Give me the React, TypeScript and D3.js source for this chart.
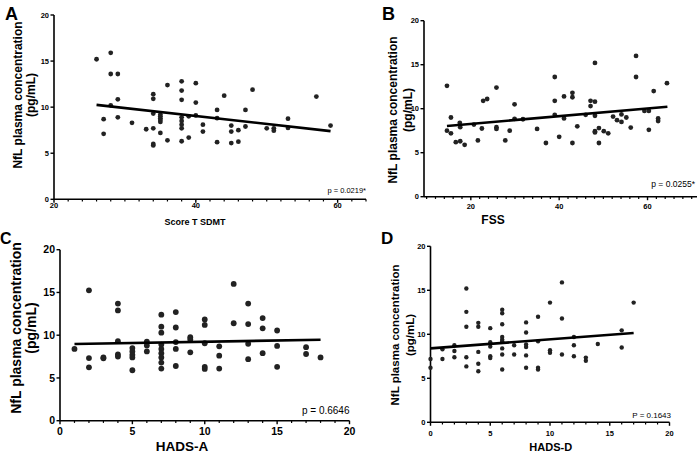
import React from 'react';
import * as d3 from 'd3';

// Panel A: Score T SDMT vs NfL
const aX = [26, 28, 28, 29, 27, 27, 28, 29, 29, 31, 33, 34, 34, 34, 34, 34, 34, 35, 35, 35, 35, 35, 35, 36, 36, 38, 38, 38, 38, 38, 38, 38, 38, 39, 39, 40, 40, 40, 41, 41, 43, 43, 43, 44, 45, 45, 45, 46, 46, 47, 47, 48, 50, 51, 51, 53, 53, 57, 59];
const aY = [15.2, 15.9, 13.6, 13.6, 8.7, 7.1, 10.2, 10.85, 8.9, 8.3, 7.6, 11.4, 10.9, 9.3, 7.7, 6.0, 5.85, 9.2, 8.8, 8.4, 9.0, 8.6, 7.2, 12.4, 6.4, 12.8, 11.8, 10.8, 8.9, 8.5, 8.1, 7.7, 6.3, 9.0, 6.7, 12.6, 10.5, 9.1, 8.1, 7.35, 6.2, 9.7, 8.8, 11.25, 8.0, 7.35, 6.1, 7.5, 6.25, 9.7, 7.9, 11.9, 7.7, 7.7, 7.45, 8.75, 7.75, 11.15, 8.0];
const aFit = [[26, 10.25], [59, 7.4]];

// Panel B: FSS vs NfL
const bX = [14.6, 14.6, 15.5, 15.5, 16.6, 17.5, 17.6, 17.6, 18.6, 20.7, 21.6, 22.5, 22.8, 23.7, 25.8, 25.8, 25.8, 27.8, 28.8, 29.9, 29.9, 31.8, 35, 37, 39, 39, 39, 40, 41.1, 41.1, 43, 43, 43, 44.1, 46, 47.1, 47.1, 48.1, 48.1, 48.1, 48.1, 48.1, 49, 49, 50.1, 51.1, 52.2, 53.1, 54.1, 54.1, 55.2, 56.2, 57.4, 57.4, 59.3, 60.3, 60.3, 61.4, 62.4, 62.4, 64.4];
const bY = [12.6, 7.5, 9.0, 7.2, 6.2, 8.4, 7.9, 6.3, 5.9, 8.2, 6.4, 7.75, 10.9, 11.1, 12.4, 7.9, 7.7, 6.4, 7.5, 10.5, 8.85, 8.8, 7.7, 6.1, 13.6, 10.9, 9.3, 6.8, 11.4, 8.9, 11.8, 11.3, 6.1, 8.0, 9.3, 10.9, 10.3, 15.2, 10.8, 9.2, 7.45, 7.3, 7.8, 6.1, 7.45, 7.2, 9.1, 8.7, 9.35, 8.5, 9.0, 7.85, 16.0, 13.6, 9.75, 9.75, 7.6, 12.0, 8.9, 8.6, 12.9];
const bFit = [[14.6, 8.03], [64.5, 10.23]];

// Panel C: HADS-A vs NfL
const cX = [1, 2, 2, 2, 3, 3, 4, 4, 4, 4, 4, 5, 5, 5, 5, 5, 6, 6, 6, 7, 7, 7, 7, 7, 7, 7, 7, 7, 8, 8, 8, 8, 8, 9, 9, 9, 10, 10, 10, 10, 10, 11, 11, 11, 12, 12, 13, 13, 13, 13, 14, 14, 14, 15, 15, 15, 17, 17, 18];
const cY = [8.4, 15.25, 7.33, 6.24, 7.4, 7.3, 13.7, 12.9, 9.3, 7.75, 7.5, 8.5, 8.1, 7.7, 7.4, 5.9, 9.25, 8.8, 8.1, 12.4, 11.0, 10.3, 8.9, 8.4, 7.9, 7.4, 6.8, 6.1, 12.7, 10.9, 9.2, 8.4, 6.4, 9.76, 9.5, 8.0, 11.85, 11.2, 9.06, 6.3, 6.05, 8.7, 7.6, 6.1, 16.0, 11.4, 13.7, 11.3, 9.0, 7.2, 12.0, 10.8, 7.9, 10.55, 8.75, 6.3, 8.6, 7.8, 7.4];
const cFit = [[1, 8.97], [18, 9.47]];

// Panel D: HADS-D vs NfL
const dX = [0, 0, 1, 1, 2, 2, 2, 3, 3, 3, 3, 3, 4, 4, 4, 4, 4, 5, 5, 5, 5, 5, 6, 6, 6, 6, 6, 6, 6, 6, 6, 7, 7, 8, 8, 8, 8, 8, 8, 9, 9, 9, 9, 10, 10, 10, 11, 11, 11, 12, 12, 12, 13, 13, 14, 16, 16, 17];
const dY = [7.2, 6.2, 8.3, 7.2, 8.75, 8.1, 7.4, 15.2, 12.55, 10.85, 7.4, 6.35, 11.3, 10.85, 8.0, 6.65, 5.8, 10.7, 9.1, 8.6, 7.5, 7.3, 12.8, 12.4, 11.15, 9.7, 9.4, 9.2, 8.4, 7.7, 6.0, 8.75, 7.7, 11.35, 10.2, 8.85, 8.55, 7.6, 6.2, 12.0, 9.2, 6.2, 6.0, 13.6, 8.2, 7.9, 15.9, 11.8, 7.7, 9.7, 8.75, 7.5, 7.35, 7.0, 8.9, 10.45, 8.5, 13.6];
const dFit = [[0, 8.4], [17, 10.15]];

const yTicks = [0, 5, 10, 15, 20];
const abXTicks = [20, 40, 60];
const cdXTicks = [0, 5, 10, 15, 20];
const yLabelLines = ['NfL plasma concentration', '(pg/mL)'];

const FONT = '"Liberation Sans", Arial, Helvetica, sans-serif';

interface PanelProps {
  letter: string;
  letterPos: [number, number];
  letterSize: number;
  xs: number[];
  ys: number[];
  fit: number[][];
  xDomain: [number, number];
  xRange: [number, number];
  yRange: [number, number];
  xTicks: number[];
  minorStep: number;
  tickFont: number;
  xTickBase: number;
  xTitle: string;
  xTitlePos: [number, number];
  xTitleSize: number;
  yLabelX: [number, number];
  yLabelY: number;
  yLabelSize: number;
  pText: string;
  pPos: [number, number];
  pSize: number;
  r: number;
}

const Panel: React.FC<PanelProps> = p => {
  const x = d3.scaleLinear().domain(p.xDomain).range(p.xRange);
  const y = d3.scaleLinear().domain([0, 20]).range(p.yRange);
  const x0 = p.xRange[0];
  const y0 = y(0);
  const tickLen = 3.5;
  const minorLen = 2.2;
  const first = Math.ceil(p.xDomain[0] / p.minorStep) * p.minorStep;
  const minor = d3.range(first, p.xDomain[1] + 0.001, p.minorStep)
    .filter(v => !p.xTicks.includes(v));
  const line = d3.line<number[]>().x(d => x(d[0])).y(d => y(d[1]));

  return (
    <g fontFamily={FONT} fontWeight="bold" fill="#000">
      <text x={p.letterPos[0]} y={p.letterPos[1]} fontSize={p.letterSize}>{p.letter}</text>

      {/* y axis */}
      <line x1={x0} x2={x0} y1={y(20)} y2={y0} stroke="#000" strokeWidth={1.6} />
      {yTicks.map(t => (
        <g key={'y' + t}>
          <line x1={x0 - tickLen} x2={x0} y1={y(t)} y2={y(t)} stroke="#000" strokeWidth={1.4} />
          <text x={x0 - tickLen - 1.5} y={y(t)} dy="0.35em" textAnchor="end" fontSize={p.tickFont}>{t}</text>
        </g>
      ))}

      {/* x axis */}
      <line x1={x0} x2={p.xRange[1]} y1={y0} y2={y0} stroke="#000" strokeWidth={1.6} />
      {minor.map(t => (
        <line key={'m' + t} x1={x(t)} x2={x(t)} y1={y0} y2={y0 + minorLen} stroke="#000" strokeWidth={1.2} />
      ))}
      {p.xTicks.map(t => (
        <g key={'x' + t}>
          <line x1={x(t)} x2={x(t)} y1={y0} y2={y0 + tickLen} stroke="#000" strokeWidth={1.4} />
          <text x={x(t)} y={p.xTickBase} textAnchor="middle" fontSize={p.tickFont}>{t}</text>
        </g>
      ))}

      <text x={p.xTitlePos[0]} y={p.xTitlePos[1]} textAnchor="middle" fontSize={p.xTitleSize}>{p.xTitle}</text>

      {yLabelLines.map((s, i) => (
        <text key={s} transform={`translate(${p.yLabelX[i]},${p.yLabelY}) rotate(-90)`}
          textAnchor="middle" dy="0.35em" fontSize={p.yLabelSize}>{s}</text>
      ))}

      {p.xs.map((v, i) => (
        <circle key={i} cx={x(v)} cy={y(p.ys[i])} r={p.r} fill="#222" />
      ))}

      <path d={line(p.fit) || ''} stroke="#000" strokeWidth={2.6} fill="none" />

      <text x={p.pPos[0]} y={p.pPos[1]} textAnchor="end" fontSize={p.pSize} fontWeight="normal">{p.pText}</text>
    </g>
  );
};

const App: React.FC = () => {
  return (
    <div style={{ position: 'absolute', left: 0, top: 0 }}>
      <svg width={700} height={458} style={{ display: 'block', background: '#fff' }}>
        <Panel letter="A" letterPos={[5, 20]} letterSize={18} xs={aX} ys={aY} fit={aFit}
          xDomain={[20, 64]} xRange={[54, 366]} yRange={[199.3, 15]} xTicks={abXTicks} minorStep={2}
          tickFont={7.5} xTickBase={207.5} xTitle="Score T SDMT" xTitlePos={[195, 225]} xTitleSize={9}
          yLabelX={[18, 30.5]} yLabelY={95} yLabelSize={12} pText="p = 0.0219*" pPos={[366, 192.5]} pSize={7.5} r={2.4} />
        <Panel letter="B" letterPos={[382, 20]} letterSize={18} xs={bX} ys={bY} fit={bFit}
          xDomain={[9.4, 71.2]} xRange={[424, 697]} yRange={[196.7, 20.7]} xTicks={abXTicks} minorStep={2}
          tickFont={7.5} xTickBase={209} xTitle="FSS" xTitlePos={[493, 223.5]} xTitleSize={12}
          yLabelX={[393, 408]} yLabelY={110} yLabelSize={12} pText="p = 0.0255*" pPos={[695, 187]} pSize={8.5} r={2.4} />
        <Panel letter="C" letterPos={[0, 243.5]} letterSize={16} xs={cX} ys={cY} fit={cFit}
          xDomain={[0, 20]} xRange={[60, 349.5]} yRange={[420.7, 249.7]} xTicks={cdXTicks} minorStep={1}
          tickFont={10.5} xTickBase={435} xTitle="HADS-A" xTitlePos={[182, 451]} xTitleSize={13.5}
          yLabelX={[16, 31]} yLabelY={328} yLabelSize={14} pText="p = 0.6646" pPos={[349.5, 414]} pSize={10} r={2.9} />
        <Panel letter="D" letterPos={[381, 243.5]} letterSize={17} xs={dX} ys={dY} fit={dFit}
          xDomain={[0, 20]} xRange={[430.5, 669.5]} yRange={[422.3, 246.3]} xTicks={cdXTicks} minorStep={1}
          tickFont={7.5} xTickBase={435.5} xTitle="HADS-D" xTitlePos={[550.7, 450.5]} xTitleSize={11}
          yLabelX={[395, 410]} yLabelY={335} yLabelSize={11.5} pText="P = 0.1643" pPos={[671, 417.5]} pSize={8} r={2.2} />
      </svg>
    </div>
  );
};

export default App;
